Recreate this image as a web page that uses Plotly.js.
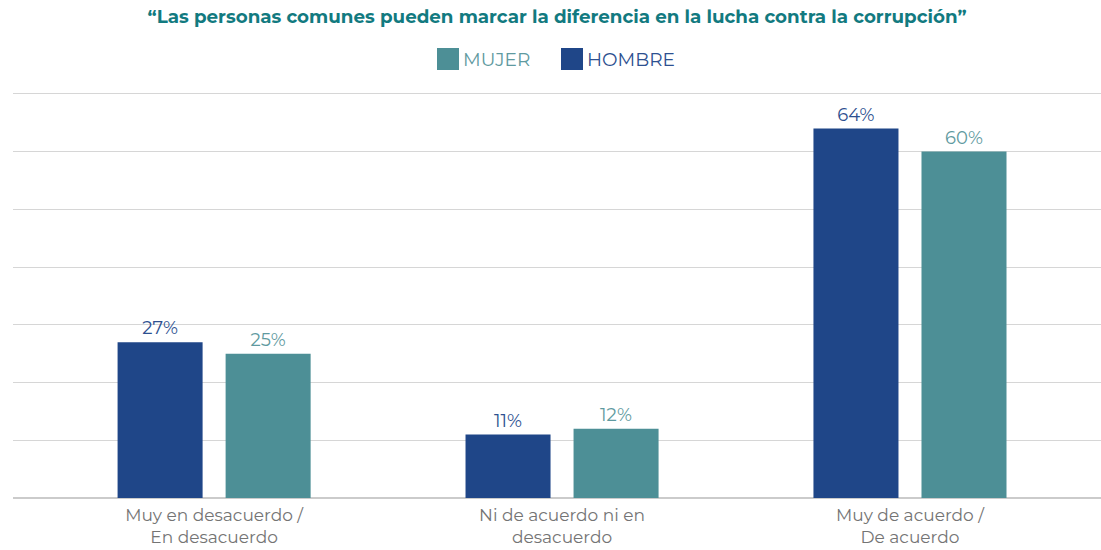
<!DOCTYPE html>
<html>
<head>
<meta charset="utf-8">
<script src="https://cdn.plot.ly/plotly-3.0.1.min.js"></script>
<style>html,body{margin:0;padding:0;background:#fff;}#chart{width:1101px;height:550px;}</style>
</head>
<body>
<div id="chart"></div>
<script>
const categories = ["Muy en desacuerdo /<br>En desacuerdo", "Ni de acuerdo ni en<br>desacuerdo", "Muy de acuerdo /<br>De acuerdo"];
const hombre = [27, 11, 64];
const mujer = [25, 12, 60];
const seriesNames = ["MUJER", "HOMBRE"];
const titleText = "“Las personas comunes pueden marcar la diferencia en la lucha contra la corrupción”";

const FONT = "Montserrat, 'Noto Sans', 'Open Sans', sans-serif";
const C_H = "#1f4688", C_M = "#4d8f96";
const L_H = "#2d5090", L_M = "#5f9aa0";

const traces = [
  {type:'bar', name: seriesNames[1], x: categories, y: hombre, marker:{color:C_H},
   text: hombre.map(v => v + '%'), textposition:'outside', cliponaxis:false,
   textfont:{family:FONT, size:18, color:L_H}, hoverinfo:'skip', showlegend:false},
  {type:'bar', name: seriesNames[0], x: categories, y: mujer, marker:{color:C_M},
   text: mujer.map(v => v + '%'), textposition:'outside', cliponaxis:false,
   textfont:{family:FONT, size:18, color:L_M}, hoverinfo:'skip', showlegend:false}
];

// legend drawn in paper coordinates
const ml = 13, mr = 0, W = 1101, mt = 91, mb = 52, H = 550;
const pw = W - ml - mr, ph = H - mt - mb;
const px = p => (p - ml) / pw;
const py = p => 1 + (mt - p) / ph;
const legendItems = [
  {name: seriesNames[0], color: C_M, text: L_M, x0: 437},
  {name: seriesNames[1], color: C_H, text: L_H, x0: 561}
];
const shapes = legendItems.map(it => ({type:'rect', xref:'paper', yref:'paper',
  x0: px(it.x0), x1: px(it.x0 + 22), y0: py(70), y1: py(48),
  fillcolor: it.color, line:{width:0}}));
const annotations = legendItems.map(it => ({xref:'paper', yref:'paper', x: px(it.x0 + 24),
  y: py(59), xanchor:'left', yanchor:'middle', showarrow:false, text: it.name,
  font:{family:FONT, size:18.5, color: it.text}}));

const layout = {
  width: W, height: H,
  margin: {l: ml, r: mr, t: mt, b: mb},
  paper_bgcolor:'#fff', plot_bgcolor:'#fff',
  title: {text: titleText, x: 0.506, xanchor:'center', y: 0.97, yanchor:'middle',
    font:{family:FONT, size:18.3, color:'#127a80', weight:700}},
  barmode:'group', bargap: 0.379, bargroupgap: 0.213,
  showlegend:false,
  xaxis: {range: [-0.578, 2.549], showgrid:false, zeroline:false, showline:false, ticks:'',
    ticklabelstandoff: 5,
    tickfont:{family:FONT, size:17, color:'#747474'}, fixedrange:true},
  yaxis: {range: [0, 70.5], dtick: 10, showgrid:true, gridcolor:'#d6d6d6', gridwidth:1,
    showticklabels:false, zeroline:true, zerolinecolor:'#cbcbcb', zerolinewidth:2, ticks:'', fixedrange:true},
  shapes: shapes, annotations: annotations
};

Plotly.newPlot('chart', traces, layout, {displayModeBar:false, staticPlot:true});
</script>
</body>
</html>
